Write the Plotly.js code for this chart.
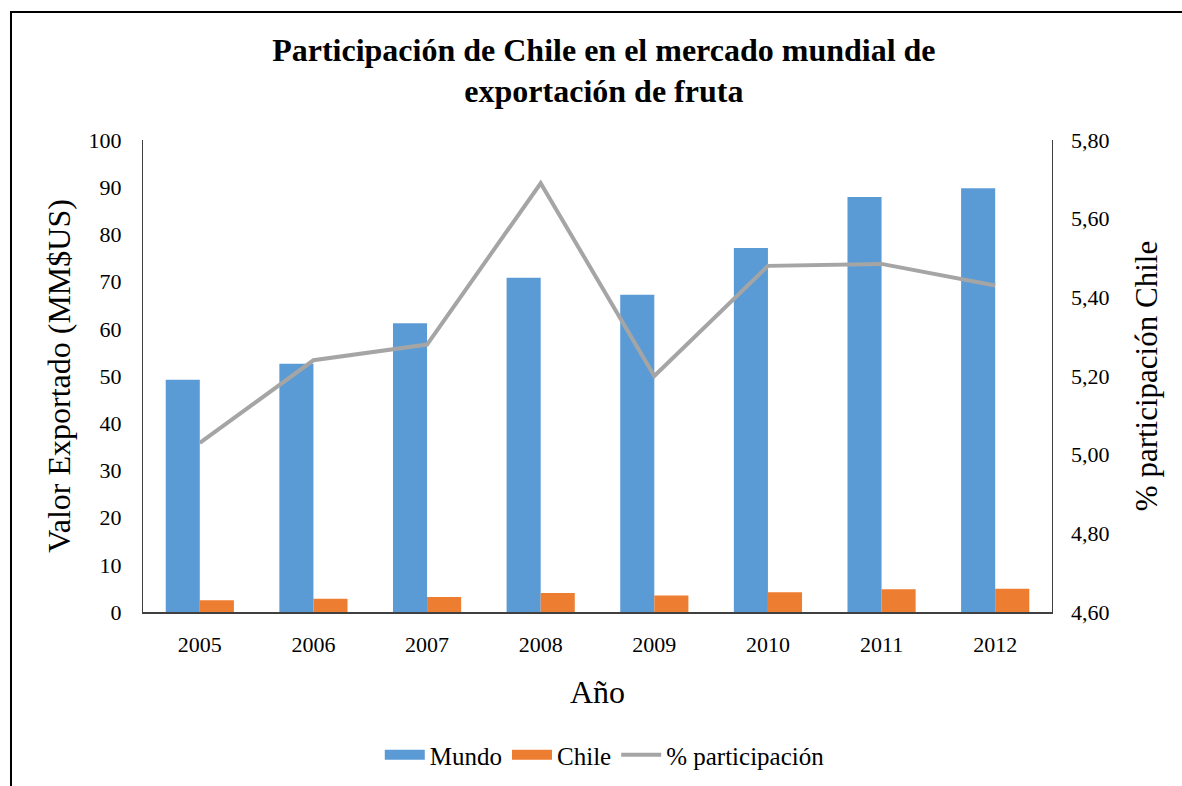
<!DOCTYPE html>
<html>
<head>
<meta charset="utf-8">
<script src="https://cdn.plot.ly/plotly-3.0.1.min.js"></script>
<style>
  html, body { margin: 0; padding: 0; background: #fff; }
  #wrap { position: relative; width: 1182px; height: 786px; overflow: hidden; }
  #frame { position: absolute; left: 10px; top: 11px; width: 1190px; height: 800px;
           border-left: 2px solid #000; border-top: 2px solid #000; pointer-events: none; z-index: 5; }
  #chart { position: absolute; left: 0; top: 0; width: 1182px; height: 786px; }
</style>
</head>
<body>
<div id="wrap">
  <div id="chart"></div>
  <div id="frame"></div>
</div>
<script>
const years = ['2005', '2006', '2007', '2008', '2009', '2010', '2011', '2012'];
const mundo = [49.2, 52.6, 61.2, 70.8, 67.2, 77.1, 87.9, 89.8];
const chile = [2.5, 2.8, 3.2, 4.0, 3.5, 4.2, 4.8, 4.9];
const participacion = [5.03, 5.24, 5.28, 5.69, 5.20, 5.48, 5.485, 5.43];
const leftTicks = [0, 10, 20, 30, 40, 50, 60, 70, 80, 90, 100];
const rightTicks = [4.6, 4.8, 5.0, 5.2, 5.4, 5.6, 5.8];

const serif = 'Liberation Serif, Times New Roman, serif';
const blue = '#5B9BD5', orange = '#ED7D31', gray = '#A5A5A5';

const traces = [
  { type: 'bar', name: 'Mundo', x: years, y: mundo, marker: { color: blue }, yaxis: 'y', showlegend: false },
  { type: 'bar', name: 'Chile', x: years, y: chile, marker: { color: orange }, yaxis: 'y', showlegend: false },
  { type: 'scatter', mode: 'lines', name: '% participación', x: years, y: participacion,
    line: { color: gray, width: 4 }, yaxis: 'y2', showlegend: false },
  // legend entries (Excel-style wide swatches)
  { type: 'scatter', mode: 'lines', name: 'Mundo', x: [null], y: [null], line: { color: blue, width: 10 }, hoverinfo: 'skip' },
  { type: 'scatter', mode: 'lines', name: 'Chile', x: [null], y: [null], line: { color: orange, width: 10 }, hoverinfo: 'skip' },
  { type: 'scatter', mode: 'lines', name: '% participación', x: [null], y: [null], line: { color: gray, width: 4 }, hoverinfo: 'skip' }
];

const layout = {
  width: 1182, height: 786,
  margin: { l: 143, r: 130, t: 140, b: 174, autoexpand: false },
  paper_bgcolor: '#fff', plot_bgcolor: '#fff',
  separators: ',.',
  font: { family: serif, color: '#000', size: 22 },
  title: {
    text: '<b>Participación de Chile en el mercado mundial de<br>exportación de fruta</b>',
    font: { family: serif, size: 32, color: '#000' },
    x: 0.507, xref: 'paper', xanchor: 'center',
    y: 0.923, yref: 'container', yanchor: 'middle'
  },
  barmode: 'group', bargap: 0.4, bargroupgap: 0,
  xaxis: {
    type: 'category', showline: true, linecolor: '#404040', linewidth: 2, mirror: false,
    ticks: '', tickfont: { size: 22 }, ticklabelstandoff: 12, automargin: false,
    title: { text: 'Año', font: { size: 32 }, standoff: 24 }
  },
  yaxis: {
    range: [0, 100], tickvals: leftTicks, showgrid: false, zeroline: false,
    showline: true, linecolor: '#404040', linewidth: 1, mirror: true, ticks: '',
    tickfont: { size: 22 }, ticklabelstandoff: 16, automargin: false,
    title: { text: 'Valor Exportado (MM$US)', font: { size: 32 }, standoff: 8 }
  },
  yaxis2: {
    overlaying: 'y', side: 'right', range: [4.6, 5.8], tickvals: rightTicks, tickformat: '.2f',
    showgrid: false, zeroline: false, showline: false, ticks: '',
    tickfont: { size: 22 }, ticklabelstandoff: 18, automargin: false,
    title: { text: '% participación Chile', font: { size: 31 }, standoff: 26 }
  },
  showlegend: true,
  legend: {
    orientation: 'h', x: 0.508, xanchor: 'center', y: -0.303, yanchor: 'middle',
    font: { size: 25 }, traceorder: 'normal', itemwidth: 40
  }
};

Plotly.newPlot('chart', traces, layout, { displayModeBar: false, staticPlot: true });
</script>
</body>
</html>
